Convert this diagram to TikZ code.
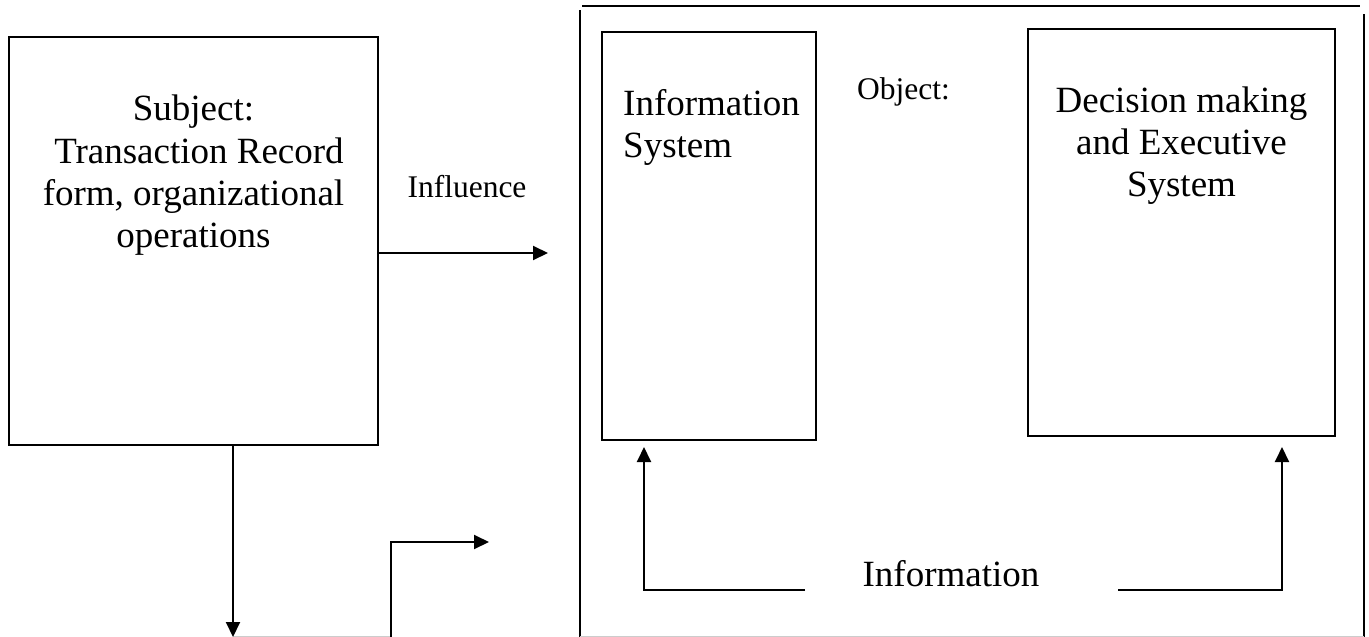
\documentclass[tikz,border=0pt]{standalone}
\usepackage{fontspec}
\setmainfont{Liberation Serif}
\usetikzlibrary{arrows.meta}
\begin{document}
\begin{tikzpicture}[x=1pt,y=-1pt,
  box/.style={draw, line width=2pt, rectangle, inner sep=0pt},
  big/.style={font=\fontsize{37}{42}\selectfont, inner sep=0pt, anchor=base},
  small/.style={font=\fontsize{31.5}{36}\selectfont, inner sep=0pt, anchor=base},
  line/.style={line width=2pt},
  arr/.style={line width=2pt, -{Triangle[length=15pt,width=14pt]}},
  faint/.style={line width=1pt, black!20},
]
\useasboundingbox (0,0) rectangle (1369,637);

% boxes
\node[box, minimum width=369pt, minimum height=408pt] (subj) at (193.5,241) {};
\node[box, minimum width=214pt, minimum height=408pt] (infsys) at (709,236) {};
\node[box, minimum width=307pt, minimum height=407pt] (dec) at (1181.5,232.5) {};

% outer frame (separate lines)
\coordinate (ftl) at (582,5.5);
\coordinate (ftr) at (1360,5.5);
\coordinate (flt) at (580,10);
\coordinate (flb) at (580,637);
\coordinate (frt) at (1364,14);
\coordinate (frb) at (1364,637);
\draw[line] (ftl) -- (ftr);
\draw[line] (flt) -- (flb);
\draw[line] (frt) -- (frb);
\coordinate (fb1) at (580,636);
\coordinate (fb2) at (1364,636);
\coordinate (gb1) at (233,636);
\coordinate (gb2) at (391,636);
\draw[faint] (fb1) -- (fb2);
\draw[faint] (gb1) -- (gb2);

% texts
\node[big] (s1) at (193.5,120) {Subject:};
\node[big] (s2) at (199,163) {Transaction Record};
\node[big] (s3) at (193.5,205) {form, organizational};
\node[big] (s4) at (193.5,247) {operations};
\node[small] (infl) at (467,197) {Influence};
\node[big, anchor=base west] (i1) at (623,115) {Information};
\node[big, anchor=base west] (i2) at (623,157) {System};
\node[small, anchor=base west] (obj) at (857,99) {Object:};
\node[big] (d1) at (1181.5,112) {Decision making};
\node[big] (d2) at (1181.5,154) {and Executive};
\node[big] (d3) at (1181.5,196) {System};
\node[big] (info) at (951,586) {Information};

% influence arrow
\coordinate (inflA) at (subj.east |- 0,253);
\coordinate (inflB) at (548,253);
\draw[arr] (inflA) -- (inflB);

% down arrow
\coordinate (downA) at (233,445);
\coordinate (downB) at (233,637);
\draw[arr] (downA) -- (downB);

% bent arrow
\coordinate (bentA) at (391,637);
\coordinate (bentB) at (489,542);
\draw[arr] (bentA) |- (bentB);

% information arrows
\coordinate (lA) at (805,590);
\coordinate (lB) at (644,447);
\draw[arr] (lA) -| (lB);
\coordinate (rA) at (1118,590);
\coordinate (rB) at (1282,447);
\draw[arr] (rA) -| (rB);
\end{tikzpicture}
\end{document}
